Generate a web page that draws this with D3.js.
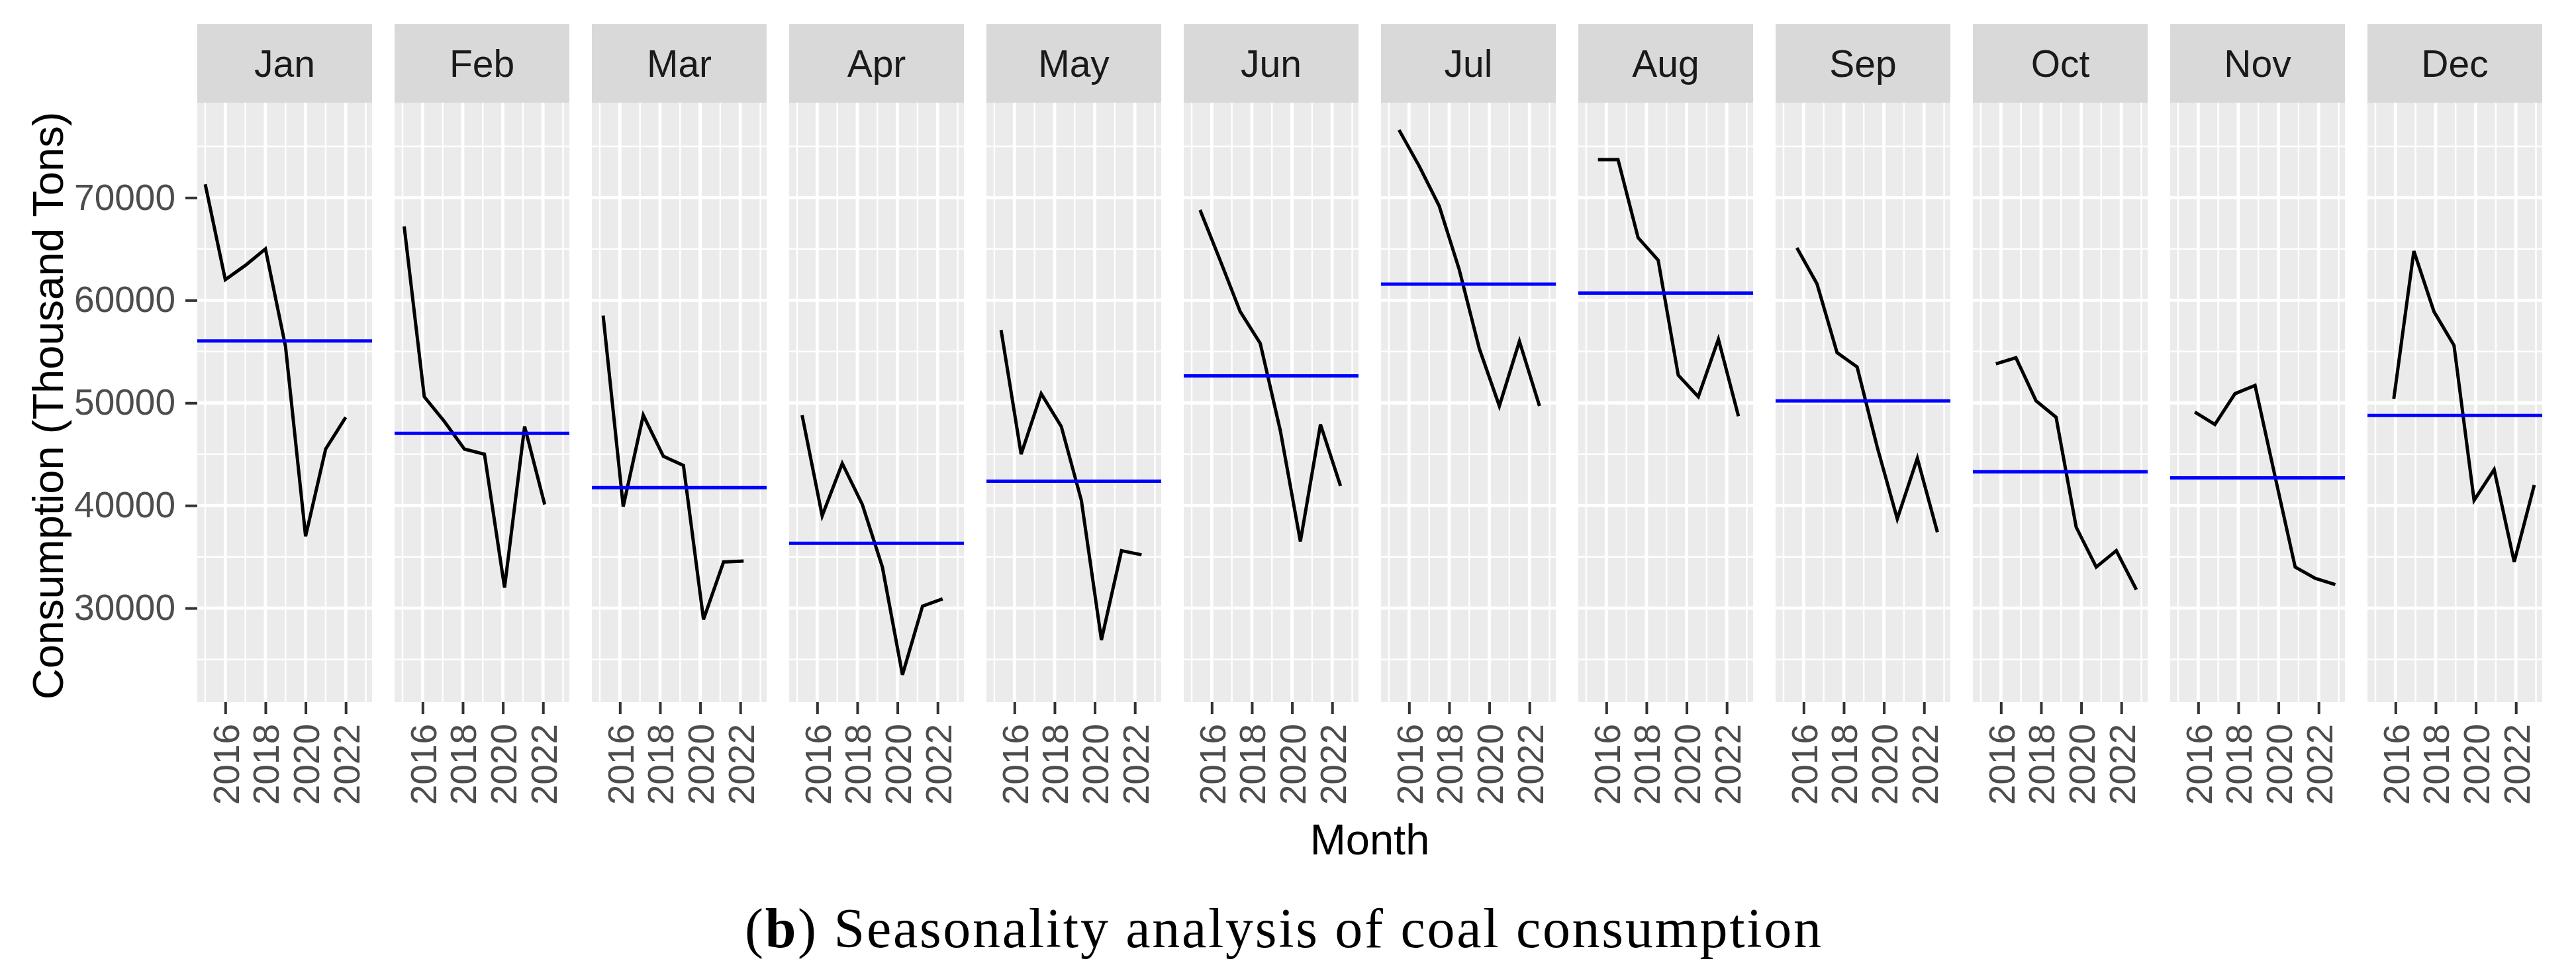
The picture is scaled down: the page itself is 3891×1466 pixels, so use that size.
<!DOCTYPE html>
<html>
<head>
<meta charset="utf-8">
<script src="https://cdn.jsdelivr.net/npm/d3@7"></script>
<style>
  body { margin: 0; background: #ffffff; }
  svg { display: block; }
</style>
</head>
<body>
<div id="chart"></div>
<script>
// facet labels and years of the series
const months = ["Jan", "Feb", "Mar", "Apr", "May", "Jun", "Jul", "Aug", "Sep", "Oct", "Nov", "Dec"];
const years = [2015, 2016, 2017, 2018, 2019, 2020, 2021, 2022];

// coal consumption (thousand tons), one value per year for each month
const jan = [71300, 62000, 63400, 65000, 55500, 37000, 45500, 48600];
const feb = [67200, 50600, 48200, 45500, 45000, 32000, 47700, 40100];
const mar = [58500, 39900, 48800, 44800, 43900, 28900, 34500, 34600];
const apr = [48800, 39000, 44100, 40100, 34000, 23500, 30200, 30900];
const may = [57100, 45000, 50900, 47700, 40500, 26900, 35600, 35200];
const jun = [68800, 63900, 58900, 55800, 47300, 36500, 47900, 41900];
const jul = [76600, 73100, 69200, 63000, 55300, 49700, 56000, 49700];
const aug = [73700, 73700, 66100, 63900, 52700, 50600, 56200, 48700];
const sep = [65100, 61600, 54900, 53500, 45700, 38700, 44600, 37400];
const oct = [53800, 54400, 50200, 48600, 37900, 34000, 35600, 31800];
const nov = [49100, 47900, 50900, 51700, 42800, 34000, 32900, 32300];
const dec = [50400, 64800, 58900, 55600, 40500, 43500, 34500, 42000];

// axis ticks
const yTicks = [30000, 40000, 50000, 60000, 70000];
const yMinor = [25000, 35000, 45000, 55000, 65000, 75000];
const xTicks = [2016, 2018, 2020, 2022];
const xMinor = [2015, 2017, 2019, 2021, 2023];

const series = [jan, feb, mar, apr, may, jun, jul, aug, sep, oct, nov, dec];

const width = 3891, height = 1466;
const panelLeft = 298, panelW = 264, panelStep = 298;
const stripTop = 36, panelTop = 155, panelBottom = 1060;
const font = "'Liberation Sans', Arial, Helvetica, sans-serif";
const tickSize = 55, stripSize = 57, titleSize = 65;

// build points: time = year + month offset
let facets = series.map(function(vals, m) {
    return vals.map(function(v, i) { return {t: years[i] + m / 12, v: v}; });
});
let allPts = [].concat.apply([], facets);

function expand(ext) {
    let pad = (ext[1] - ext[0]) * 0.05;
    return [ext[0] - pad, ext[1] + pad];
}

let x = d3.scaleLinear()
    .domain(expand(d3.extent(allPts, function(d) { return d.t; })))
    .range([0, panelW]);
let y = d3.scaleLinear()
    .domain(expand(d3.extent(allPts, function(d) { return d.v; })))
    .range([panelBottom, panelTop]);

let svg = d3.select("#chart").append("svg")
    .attr("width", width)
    .attr("height", height)
    .style("font-family", font);

svg.append("rect").attr("width", width).attr("height", height).attr("fill", "#ffffff");

let valueLine = d3.line()
    .x(function(d) { return x(d.t); })
    .y(function(d) { return y(d.v); });

facets.forEach(function(pts, m) {
    let g = svg.append("g")
        .attr("transform", "translate(" + (panelLeft + m * panelStep) + ",0)");

    // strip
    g.append("rect")
        .attr("x", 0).attr("y", stripTop)
        .attr("width", panelW).attr("height", panelTop - stripTop)
        .attr("fill", "#d9d9d9");
    g.append("text")
        .attr("x", panelW / 2)
        .attr("y", (stripTop + panelTop) / 2)
        .attr("dy", "0.36em")
        .attr("text-anchor", "middle")
        .attr("font-size", stripSize)
        .attr("fill", "#1a1a1a")
        .text(months[m]);

    // panel background + grid
    g.append("rect")
        .attr("x", 0).attr("y", panelTop)
        .attr("width", panelW).attr("height", panelBottom - panelTop)
        .attr("fill", "#ebebeb");
    g.selectAll(".ymin").data(yMinor.filter(function(d) { return y(d) > panelTop && y(d) < panelBottom; }))
        .enter().append("line")
        .attr("x1", 0).attr("x2", panelW)
        .attr("y1", function(d) { return y(d); }).attr("y2", function(d) { return y(d); })
        .attr("stroke", "#ffffff").attr("stroke-width", 2.4);
    g.selectAll(".xmin").data(xMinor.filter(function(d) { return x(d) > 0 && x(d) < panelW; }))
        .enter().append("line")
        .attr("y1", panelTop).attr("y2", panelBottom)
        .attr("x1", function(d) { return x(d); }).attr("x2", function(d) { return x(d); })
        .attr("stroke", "#ffffff").attr("stroke-width", 2.4);
    g.selectAll(".ymaj").data(yTicks)
        .enter().append("line")
        .attr("x1", 0).attr("x2", panelW)
        .attr("y1", function(d) { return y(d); }).attr("y2", function(d) { return y(d); })
        .attr("stroke", "#ffffff").attr("stroke-width", 4.8);
    g.selectAll(".xmaj").data(xTicks)
        .enter().append("line")
        .attr("y1", panelTop).attr("y2", panelBottom)
        .attr("x1", function(d) { return x(d); }).attr("x2", function(d) { return x(d); })
        .attr("stroke", "#ffffff").attr("stroke-width", 4.8);

    // series line
    g.append("path")
        .datum(pts)
        .attr("fill", "none")
        .attr("stroke", "#000000")
        .attr("stroke-width", 5)
        .attr("d", valueLine);

    // mean line
    let mean = d3.mean(pts, function(d) { return d.v; });
    g.append("line")
        .attr("x1", 0).attr("x2", panelW)
        .attr("y1", y(mean)).attr("y2", y(mean))
        .attr("stroke", "#0000ff")
        .attr("stroke-width", 5);

    // bottom axis
    let ax = g.append("g")
        .attr("transform", "translate(0," + panelBottom + ")")
        .call(d3.axisBottom(x).tickValues(xTicks).tickFormat(d3.format("d")).tickSizeInner(18).tickSizeOuter(0));
    ax.select(".domain").remove();
    ax.selectAll(".tick line").attr("stroke", "#333333").attr("stroke-width", 4);
    ax.selectAll(".tick text")
        .attr("transform", "rotate(-90)")
        .attr("x", -33).attr("y", 0).attr("dy", "0.36em")
        .attr("text-anchor", "end")
        .attr("font-size", tickSize)
        .attr("font-family", font)
        .attr("fill", "#4d4d4d");
});

// left axis
let ay = svg.append("g")
    .attr("transform", "translate(" + panelLeft + ",0)")
    .call(d3.axisLeft(y).tickValues(yTicks).tickFormat(d3.format("d")).tickSizeInner(18).tickSizeOuter(0).tickPadding(15));
ay.select(".domain").remove();
ay.selectAll(".tick line").attr("stroke", "#333333").attr("stroke-width", 4);
ay.selectAll(".tick text")
    .attr("font-size", tickSize)
    .attr("font-family", font)
    .attr("fill", "#4d4d4d");

// axis titles
svg.append("text")
    .attr("transform", "translate(72," + ((panelTop + panelBottom) / 2 + 5) + ") rotate(-90)")
    .attr("dy", "0.36em")
    .attr("text-anchor", "middle")
    .attr("font-size", titleSize)
    .attr("fill", "#000000")
    .text("Consumption (Thousand Tons)");

svg.append("text")
    .attr("x", panelLeft + (11 * panelStep + panelW) / 2)
    .attr("y", 1290)
    .attr("text-anchor", "middle")
    .attr("font-size", titleSize)
    .attr("fill", "#000000")
    .text("Month");

// caption
let cap = svg.append("text")
    .attr("x", 1938)
    .attr("y", 1430)
    .attr("text-anchor", "middle")
    .attr("font-size", 84)
    .attr("textLength", 1626)
    .attr("lengthAdjust", "spacing")
    .attr("font-family", "'Liberation Serif', 'Times New Roman', serif")
    .attr("fill", "#000000");
cap.append("tspan").text("(");
cap.append("tspan").attr("font-weight", "bold").text("b");
cap.append("tspan").text(") Seasonality analysis of coal consumption");
</script>
</body>
</html>
